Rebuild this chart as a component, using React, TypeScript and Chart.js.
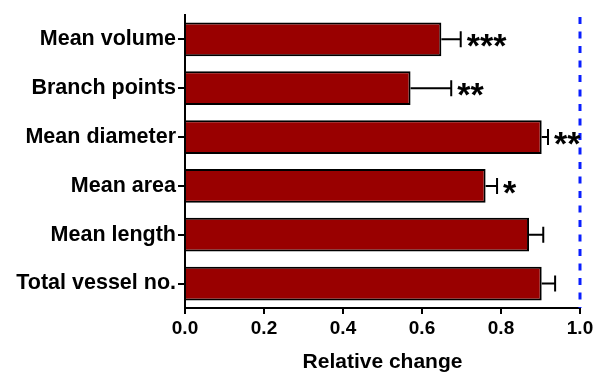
import React, { useEffect, useRef } from "react";
import { Chart, registerables } from "chart.js";

Chart.register(...registerables);

const categories = [
  "Mean volume",
  "Branch points",
  "Mean diameter",
  "Mean area",
  "Mean length",
  "Total vessel no.",
];
const means = [0.649, 0.571, 0.903, 0.761, 0.871, 0.903];
const errors = [0.049, 0.103, 0.016, 0.029, 0.036, 0.034];
const significance = ["***", "**", "**", "*", "", ""];
const xTicks = [0, 0.2, 0.4, 0.6, 0.8, 1.0];
const referenceValue = 1.0;
const xAxisTitle = "Relative change";

const FONT = "'Liberation Sans', Arial, Helvetica, sans-serif";

const annotationPlugin = {
  id: "annotations",
  afterDatasetsDraw(chart: any) {
    const ctx = chart.ctx;
    const xs = chart.scales.x;
    const area = chart.chartArea;
    const meta = chart.getDatasetMeta(0);
    ctx.save();
    const rx = xs.getPixelForValue(referenceValue);
    ctx.strokeStyle = "#0a1fff";
    ctx.lineWidth = 3;
    ctx.setLineDash([7, 7.5]);
    ctx.beginPath();
    ctx.moveTo(rx, area.top + 2);
    ctx.lineTo(rx, area.bottom);
    ctx.stroke();
    ctx.setLineDash([]);

    meta.data.forEach((bar: any, i: number) => {
      const y = bar.y;
      const x0 = xs.getPixelForValue(means[i]);
      const x1 = xs.getPixelForValue(means[i] + errors[i]);
      ctx.strokeStyle = "#000";
      ctx.lineWidth = 2;
      ctx.beginPath();
      ctx.moveTo(x0, y);
      ctx.lineTo(x1, y);
      ctx.moveTo(x1, y - 8);
      ctx.lineTo(x1, y + 8);
      ctx.stroke();
      const s = significance[i];
      if (s) {
        ctx.font = `bold 34px ${FONT}`;
        ctx.fillStyle = "#000";
        ctx.textAlign = "left";
        ctx.textBaseline = "alphabetic";
        const m = ctx.measureText("*");
        const asc = m.actualBoundingBoxAscent;
        const desc = m.actualBoundingBoxDescent;
        const center = y + 1.5;
        const baseline = center + (asc - desc) / 2;
        ctx.fillText(s, x1 + 6, baseline);
      }
    });
    ctx.restore();
  },
};

export default function App() {
  const ref = useRef<HTMLCanvasElement | null>(null);
  useEffect(() => {
    if (!ref.current) return;
    const chart = new Chart(ref.current, {
      type: "bar",
      data: {
        labels: categories,
        datasets: [
          {
            data: means,
            backgroundColor: "#990000",
            borderColor: "#000",
            borderWidth: 2,
            barPercentage: 0.69,
            categoryPercentage: 1,
          },
        ],
      },
      options: {
        indexAxis: "y",
        responsive: false,
        animation: false,
        layout: { padding: { top: 12, right: 21, left: 0, bottom: 0 } },
        plugins: { legend: { display: false }, tooltip: { enabled: false } },
        scales: {
          x: {
            type: "linear",
            min: 0,
            max: 1,
            afterBuildTicks: (scale: any) => {
              scale.ticks = xTicks.map((v) => ({ value: v }));
            },
            afterFit: (scale: any) => {
              scale.height = 69;
            },
            ticks: {
              color: "#000",
              font: { family: FONT, size: 19, weight: "bold" },
              padding: 3,
              callback: (v: any) => Number(v).toFixed(1),
              maxRotation: 0,
            },
            grid: {
              display: true,
              drawOnChartArea: false,
              drawTicks: true,
              tickLength: 6,
              color: "#000",
              lineWidth: 2,
            },
            border: { display: true, color: "#000", width: 2 },
            title: {
              display: true,
              text: xAxisTitle,
              color: "#000",
              font: { family: FONT, size: 21, weight: "bold" },
              padding: { top: 2, bottom: 2 },
            },
          },
          y: {
            type: "category",
            afterFit: (scale: any) => {
              scale.width = 185;
            },
            ticks: {
              color: "#000",
              font: { family: FONT, size: 21.5, weight: "bold" },
              padding: 2,
            },
            grid: {
              display: true,
              offset: false,
              drawOnChartArea: false,
              drawTicks: true,
              tickLength: 7,
              color: "#000",
              lineWidth: 2,
            },
            border: { display: true, color: "#000", width: 2 },
          },
        },
      },
      plugins: [annotationPlugin],
    } as any);
    return () => chart.destroy();
  }, []);
  return (
    <div style={{ position: "absolute", left: 0, top: 0, width: 601, height: 377, background: "#fff" }}>
      <canvas ref={ref} width={601} height={377} />
    </div>
  );
}
